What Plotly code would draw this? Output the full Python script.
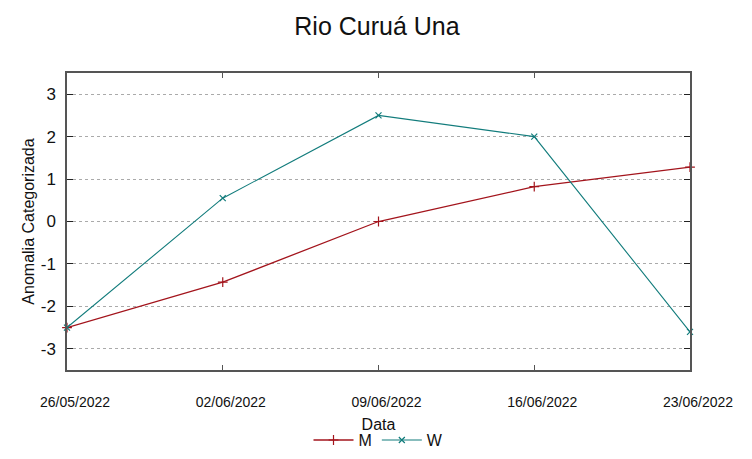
import plotly.graph_objects as go

dates = ["2022-05-26", "2022-06-02", "2022-06-09", "2022-06-16", "2022-06-23"]
tick_labels = ["26/05/2022", "02/06/2022", "09/06/2022", "16/06/2022", "23/06/2022"]
m_values = [-2.5, -1.43, 0.0, 0.82, 1.28]
w_values = [-2.5, 0.55, 2.5, 2.0, -2.6]
y_ticks = [-3, -2, -1, 0, 1, 2, 3]
y_tick_labels = ["-3", "-2", "-1", "0", "1", "2", "3"]

FONT = "Liberation Sans, Arial, sans-serif"

fig = go.Figure()
fig.add_trace(go.Scatter(
    x=dates, y=m_values, name="M", mode="lines+markers",
    line=dict(color="#a3141c", width=1.3),
    marker=dict(symbol="cross-thin", size=7, line=dict(color="#a3141c", width=1.2)),
    cliponaxis=False,
))
fig.add_trace(go.Scatter(
    x=dates, y=w_values, name="W", mode="lines+markers",
    line=dict(color="#127c7c", width=1.1),
    marker=dict(symbol="x-thin", size=6, line=dict(color="#127c7c", width=1.2)),
    cliponaxis=False,
))

fig.update_layout(
    width=752, height=459,
    margin=dict(l=59, r=70, t=65, b=97, autoexpand=False),
    paper_bgcolor="white", plot_bgcolor="white",
    font=dict(family=FONT, color="#222"),
    title=dict(text="Rio Curuá Una", x=0.4907, xanchor="center", y=0.96, yanchor="middle",
               font=dict(size=25, color="#111")),
    showlegend=True,
    legend=dict(orientation="h", x=0.5, xanchor="center", y=-0.236, yanchor="middle",
                font=dict(size=16, color="#111"), itemwidth=40, tracegroupgap=0),
)
fig.update_xaxes(
    type="date", range=[dates[0], dates[-1]],
    tickvals=dates, ticktext=tick_labels,
    tickfont=dict(size=14, color="#111"),
    ticks="inside", ticklen=5, tickcolor="#555",
    showline=True, linecolor="#555", linewidth=1.5, mirror="ticks",
    showgrid=False, zeroline=False, automargin=False,
    ticklabelstandoff=18, ticklabelshift=8,
    title=dict(text="Data", font=dict(size=16, color="#111"), standoff=10),
)
fig.update_yaxes(
    range=[-3.5, 3.5], tickvals=y_ticks, ticktext=y_tick_labels,
    tickfont=dict(size=17, color="#111"),
    ticks="inside", ticklen=6, tickcolor="#222",
    showline=True, linecolor="#555", linewidth=1.5, mirror="ticks",
    showgrid=True, gridcolor="#aaaaaa", griddash="dot", gridwidth=1,
    zeroline=False, automargin=False,
    ticklabelstandoff=6,
    title=dict(text="Anomalia Categorizada", font=dict(size=16, color="#111"), standoff=2),
)

fig.write_html("out.html")
